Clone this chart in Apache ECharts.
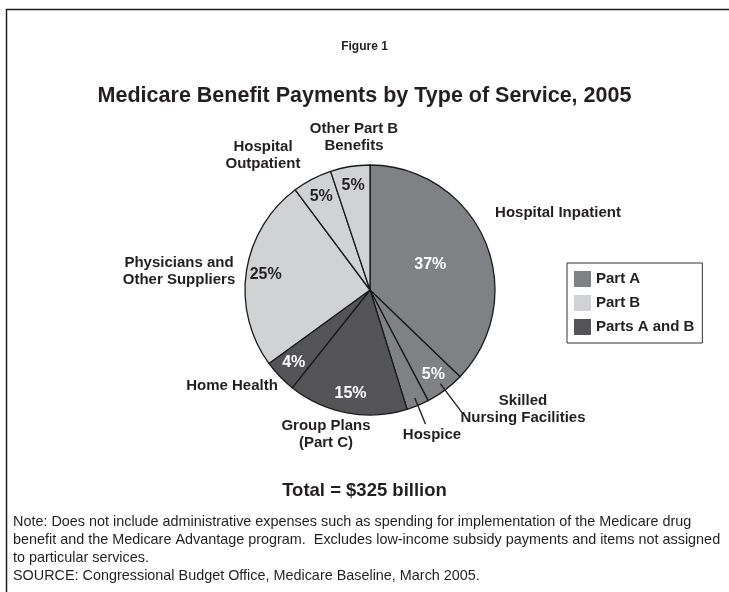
<!DOCTYPE html>
<html><head><meta charset="utf-8">
<script src="https://cdn.jsdelivr.net/npm/echarts@6/dist/echarts.min.js"></script>
<style>html,body{margin:0;padding:0;background:#fff}#c{width:729px;height:592px}</style>
</head><body><div id="c"></div>
<script>
// ---- data ----
const services = ['Hospital Inpatient','Skilled Nursing Facilities','Hospice','Group Plans (Part C)','Home Health','Physicians and Other Suppliers','Hospital Outpatient','Other Part B Benefits'];
const serviceLines = [['Hospital Inpatient'],['Skilled','Nursing Facilities'],['Hospice'],['Group Plans','(Part C)'],['Home Health'],['Physicians and','Other Suppliers'],['Hospital','Outpatient'],['Other Part B','Benefits']];
const shares = [37.2, 5.1, 2.9, 15.5, 4.3, 24.8, 5.1, 5.1];
const shareLabels = ['37%','5%','3%','15%','4%','25%','5%','5%'];
const parts = ['Part A','Part A','Part A','Parts A and B','Parts A and B','Part B','Part B','Part B'];
const partNames = ['Part A','Part B','Parts A and B'];
const titleText = 'Medicare Benefit Payments by Type of Service, 2005';
const figureText = 'Figure 1';
const totalText = 'Total = $325 billion';
const noteLines = ['Note: Does not include administrative expenses such as spending for implementation of the Medicare drug','benefit and the Medicare Advantage program.  Excludes low-income subsidy payments and items not assigned','to particular services.','SOURCE: Congressional Budget Office, Medicare Baseline, March 2005.'];

// ---- styles / layout ----
const partColors = {'Part A':'#808185','Part B':'#d1d2d4','Parts A and B':'#545457'};
const partTextColors = {'Part A':'#ffffff','Part B':'#231f20','Parts A and B':'#ffffff'};
const FONT = "'Liberation Sans', Arial, sans-serif";
const INK = '#231f20';
const CX = 370, CY = 290, R = 125;
const outerLabelCenters = [[558,213],[523,409],[432,435],[326,434],[232,386],[179,271],[263,155],[354,137]];
const leaderLengths = {1: 36, 2: 28};

const sliceData = services.map((s, i) => ({
  name: s, value: shares[i],
  itemStyle: {color: partColors[parts[i]]},
  label: {show: i === 0}
}));
const innerLabelData = services.map((s, i) => ({
  name: s, value: shares[i],
  label: {show: i !== 0, color: partTextColors[parts[i]]}
}));
const outerLabelData = services.map((s, i) => ({
  name: s, value: shares[i],
  labelLine: leaderLengths[i] ? {show: true, length: leaderLengths[i], length2: 0} : {show: false, length: 8, length2: 0}
}));
const legendData = partNames.map(p => ({name: p, value: 0, itemStyle: {color: partColors[p]}}));

const chart = echarts.init(document.getElementById('c'), null, {renderer: 'canvas'});
chart.setOption({
  backgroundColor: '#ffffff',
  animation: false,
  title: [
    {text: figureText, left: 'center', top: 41, padding: 0, textStyle: {fontFamily: FONT, fontWeight: 'bold', fontSize: 12, color: INK}},
    {text: titleText, left: 'center', top: 85, padding: 0, textStyle: {fontFamily: FONT, fontWeight: 'bold', fontSize: 21.5, color: INK}},
    {text: totalText, left: 'center', top: 481, padding: 0, textStyle: {fontFamily: FONT, fontWeight: 'bold', fontSize: 18.5, color: INK}},
    {text: noteLines.join('\n'), left: 13, top: 513, padding: 0, textStyle: {fontFamily: FONT, fontWeight: 'normal', fontSize: 14.4, lineHeight: 18, color: INK}}
  ],
  legend: {
    data: partNames, orient: 'vertical', left: 567, top: 263,
    padding: [8, 8, 8, 7], itemGap: 8, itemWidth: 17, itemHeight: 16, icon: 'rect',
    borderColor: '#333333', borderWidth: 1, selectedMode: false,
    textStyle: {fontFamily: FONT, fontWeight: 'bold', fontSize: 15, color: INK}
  },
  graphic: [{
    type: 'polyline', silent: true,
    shape: {points: [[6.5, 592], [6.5, 9.5], [729, 9.5]]},
    style: {stroke: '#231f20', lineWidth: 1.5, fill: null}
  }],
  series: [
    {
      type: 'pie', center: [CX, CY], radius: R, startAngle: 90, clockwise: true,
      avoidLabelOverlap: false, silent: true, z: 2,
      itemStyle: {borderColor: '#1a1a1a', borderWidth: 1.3},
      label: {position: 'inside', formatter: p => shareLabels[p.dataIndex], fontFamily: FONT, fontWeight: 'bold', fontSize: 16, color: '#ffffff'},
      labelLine: {show: false},
      emphasis: {disabled: true},
      data: sliceData
    },
    {
      type: 'pie', center: [CX, CY], radius: [80, R], startAngle: 90, clockwise: true,
      avoidLabelOverlap: false, silent: true, z: 3,
      itemStyle: {color: 'rgba(0,0,0,0)', borderWidth: 0},
      label: {position: 'inside', formatter: p => shareLabels[p.dataIndex], fontFamily: FONT, fontWeight: 'bold', fontSize: 16},
      labelLine: {show: false},
      emphasis: {disabled: true},
      data: innerLabelData
    },
    {
      type: 'pie', center: [CX, CY], radius: 117, startAngle: 90, clockwise: true,
      avoidLabelOverlap: false, silent: true, z: 4,
      itemStyle: {color: 'rgba(0,0,0,0)', borderWidth: 0},
      label: {
        position: 'outer', alignTo: 'none', distanceToLabelLine: 0,
        formatter: p => serviceLines[p.dataIndex].map(l => '{c|' + l + '}').join('\n'),
        rich: {c: {align: 'center', fontFamily: FONT, fontWeight: 'bold', fontSize: 15, lineHeight: 17, color: INK}}
      },
      labelLine: {lineStyle: {color: '#231f20', width: 1.4}},
      labelLayout: function (p) {
        const t = outerLabelCenters[p.dataIndex];
        const r = p.labelRect;
        return {
          dx: t[0] - (r.x + r.width / 2),
          dy: t[1] - (r.y + r.height / 2),
          labelLinePoints: p.labelLinePoints
        };
      },
      emphasis: {disabled: true},
      data: outerLabelData
    },
    {
      type: 'pie', center: [CX, CY], radius: 0, silent: true, stillShowZeroSum: false,
      label: {show: false}, labelLine: {show: false},
      data: legendData
    }
  ]
});
</script>
</body></html>
